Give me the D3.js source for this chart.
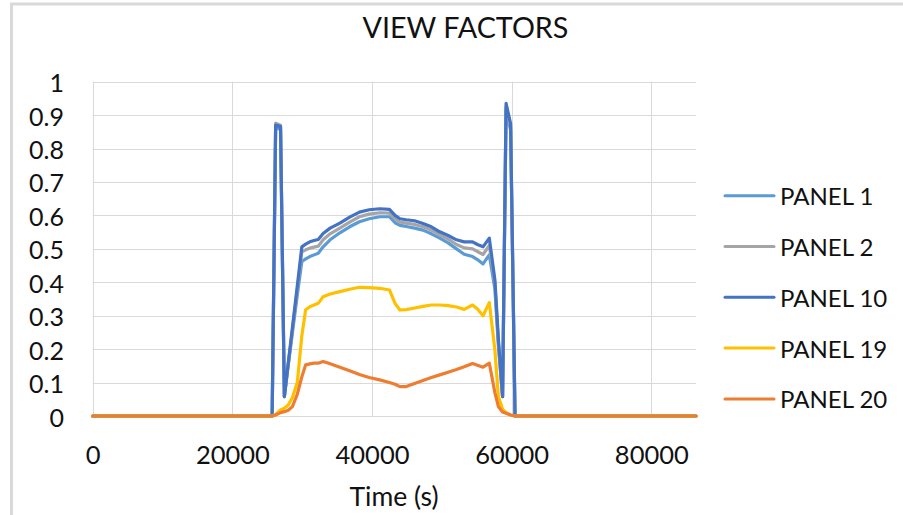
<!DOCTYPE html>
<html>
<head>
<meta charset="utf-8">
<script src="https://cdn.jsdelivr.net/npm/d3@7"></script>
<style>
  body { margin: 0; background: #fff; }
  svg text { font-family: Lato, "Open Sans", sans-serif; fill: #111; }
</style>
</head>
<body>
<div id="chart"></div>
<script>
var width = 903;
var height = 515;

// time in seconds, shared by every panel
var times = [0, 25700, 26200, 26900, 27450, 28000, 28600, 29300, 29950, 30500, 31100, 31700, 32300, 33000, 34000, 35400, 36800, 38200, 39600, 41100, 42500, 43300, 44000, 44900, 46100, 47300, 48500, 49700, 50900, 52100, 53200, 54400, 55100, 55900, 56800, 57600, 58100, 58700, 59200, 59850, 60480, 61200, 86400];

var panel1 = [0, 0, 0.862, 0.858, 0.058, 0.152, 0.249, 0.362, 0.462, 0.470, 0.477, 0.482, 0.487, 0.506, 0.527, 0.548, 0.566, 0.581, 0.590, 0.596, 0.596, 0.578, 0.570, 0.567, 0.562, 0.556, 0.545, 0.532, 0.518, 0.500, 0.484, 0.477, 0.468, 0.455, 0.482, 0.380, 0.210, 0.058, 0.915, 0.855, 0, 0, 0];
var panel2 = [0, 0, 0.876, 0.870, 0.058, 0.155, 0.257, 0.378, 0.491, 0.497, 0.502, 0.505, 0.508, 0.527, 0.545, 0.562, 0.580, 0.596, 0.604, 0.608, 0.607, 0.590, 0.580, 0.577, 0.573, 0.566, 0.556, 0.542, 0.529, 0.513, 0.503, 0.500, 0.492, 0.483, 0.510, 0.395, 0.220, 0.058, 0.925, 0.865, 0, 0, 0];
var panel10 = [0, 0, 0.870, 0.866, 0.058, 0.157, 0.264, 0.389, 0.506, 0.514, 0.521, 0.525, 0.528, 0.546, 0.562, 0.577, 0.595, 0.610, 0.617, 0.620, 0.618, 0.600, 0.590, 0.587, 0.584, 0.576, 0.566, 0.551, 0.540, 0.527, 0.521, 0.521, 0.513, 0.506, 0.532, 0.407, 0.230, 0.058, 0.935, 0.875, 0, 0, 0];
var panel19 = [0, 0, 0.005, 0.018, 0.023, 0.033, 0.055, 0.100, 0.240, 0.318, 0.327, 0.332, 0.337, 0.357, 0.365, 0.372, 0.379, 0.385, 0.384, 0.382, 0.377, 0.337, 0.317, 0.318, 0.323, 0.328, 0.332, 0.332, 0.330, 0.326, 0.319, 0.332, 0.320, 0.300, 0.339, 0.197, 0.058, 0.020, 0.010, 0.003, 0, 0, 0];
var panel20 = [0, 0, 0.003, 0.010, 0.013, 0.017, 0.028, 0.065, 0.117, 0.153, 0.156, 0.158, 0.158, 0.163, 0.156, 0.146, 0.135, 0.124, 0.115, 0.108, 0.100, 0.095, 0.088, 0.088, 0.097, 0.106, 0.115, 0.123, 0.131, 0.139, 0.147, 0.157, 0.152, 0.146, 0.158, 0.070, 0.028, 0.012, 0.008, 0.003, 0, 0, 0];

var seriesNames = ["PANEL 1", "PANEL 2", "PANEL 10", "PANEL 19", "PANEL 20"];
var seriesValues = [panel1, panel2, panel10, panel19, panel20];
var seriesColors = ["#5B9BD5", "#A5A5A5", "#4472C4", "#FFC000", "#ED7D31"];

var xTicks = [0, 20000, 40000, 60000, 80000];
var yTicks = [0, 0.1, 0.2, 0.3, 0.4, 0.5, 0.6, 0.7, 0.8, 0.9, 1];

var svg = d3.select('#chart')
  .append('svg')
  .attr('width', width)
  .attr('height', height);

// chart area border (only left and top are in frame)
svg.append('rect')
  .attr('x', 11.5).attr('y', 4)
  .attr('width', width + 20).attr('height', height + 20)
  .attr('fill', '#fff')
  .attr('stroke', '#d9d9d9')
  .attr('stroke-width', 3);

var x = d3.scaleLinear().domain([0, 86400]).range([92.7, 696]);
var y = d3.scaleLinear().domain([0, 1]).range([416, 81.7]);

//Gridlines
svg.append('g')
  .selectAll('line')
  .data(yTicks)
  .enter()
  .append('line')
  .attr('x1', x(0)).attr('x2', x(86400))
  .attr('y1', function(d){ return Math.round(y(d)) + 0.5; })
  .attr('y2', function(d){ return Math.round(y(d)) + 0.5; })
  .attr('stroke', '#d9d9d9').attr('stroke-width', 1);

svg.append('g')
  .selectAll('line')
  .data(xTicks)
  .enter()
  .append('line')
  .attr('x1', function(d){ return Math.round(x(d)) + 0.5; })
  .attr('x2', function(d){ return Math.round(x(d)) + 0.5; })
  .attr('y1', y(1)).attr('y2', y(0))
  .attr('stroke', '#d9d9d9').attr('stroke-width', 1);

//Axes (labels only)
var yAxis = svg.append('g')
  .attr('transform', 'translate(64,0)')
  .call(d3.axisLeft(y).tickValues(yTicks).tickSize(0).tickPadding(0).tickFormat(function(d){ return d3.format('')(+d.toFixed(1)); }));
yAxis.select('.domain').remove();
yAxis.selectAll('text')
  .attr('dy', '0.4em')
  .style('font-size', '25px')
  .style('font-family', 'Lato, sans-serif')
  .attr('fill', '#111');

var xAxis = svg.append('g')
  .attr('transform', 'translate(0,464)')
  .call(d3.axisBottom(x).tickValues(xTicks).tickSize(0).tickPadding(0).tickFormat(d3.format('d')));
xAxis.select('.domain').remove();
xAxis.selectAll('text')
  .attr('dy', 0)
  .attr('y', 0)
  .style('font-size', '25.5px')
  .style('font-family', 'Lato, sans-serif')
  .attr('fill', '#111');

//Lines
var line = d3.line()
  .x(function(d){ return x(d[0]); })
  .y(function(d){ return y(d[1]); });

seriesValues.forEach(function(vals, i){
  svg.append('path')
    .datum(times.map(function(t, j){ return [t, vals[j]]; }))
    .attr('d', line)
    .attr('fill', 'none')
    .attr('stroke', seriesColors[i])
    .attr('stroke-width', 3.2)
    .attr('stroke-linejoin', 'round')
    .attr('stroke-linecap', 'round');
});

//Title
svg.append('text')
  .attr('x', 465.5).attr('y', 38.3)
  .attr('text-anchor', 'middle')
  .style('font-size', '28.7px')
  .text('VIEW FACTORS');

svg.append('text')
  .attr('x', 394).attr('y', 506)
  .attr('text-anchor', 'middle')
  .style('font-size', '26.5px')
  .text('Time (s)');

//Legend
var legend = svg.append('g')
  .selectAll('g')
  .data(seriesNames)
  .enter()
  .append('g')
  .attr('transform', function(d, i){ return 'translate(0,' + (195.7 + i * 50.8) + ')'; });

legend.append('line')
  .attr('x1', 725).attr('x2', 774)
  .attr('y1', 0).attr('y2', 0)
  .attr('stroke', function(d, i){ return seriesColors[i]; })
  .attr('stroke-width', 3)
  .attr('stroke-linecap', 'round');

legend.append('text')
  .attr('x', 780).attr('y', 9.5)
  .style('font-size', '24px')
  .text(function(d){ return d; });
</script>
</body>
</html>
